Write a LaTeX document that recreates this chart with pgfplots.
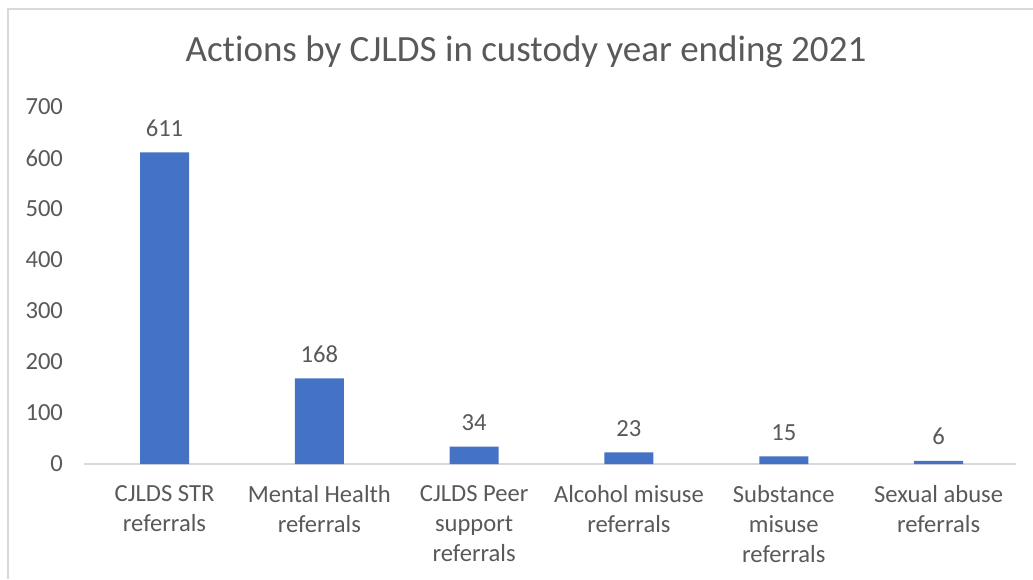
\documentclass[border=0pt]{standalone}
\usepackage{fontspec}
\setmainfont{Carlito}[Ligatures={NoCommon}]
\usepackage{pgfplots}
\pgfplotsset{compat=1.18}
\definecolor{barblue}{HTML}{4472C4}
\definecolor{txt}{HTML}{595959}
\definecolor{axgray}{HTML}{D9D9D9}
\begin{document}
\begin{tikzpicture}
\path[use as bounding box] (0,0) rectangle (516.5pt,289.5pt);
\draw[axgray, line width=0.8pt] (4pt,0) -- (4pt,285pt) -- (516.5pt,285pt);
\node[txt, font=\fontsize{18.5}{22}\selectfont] at (263pt,263.5pt) {Actions by CJLDS in custody year ending 2021};
\begin{axis}[
  at={(42pt,57.5pt)}, anchor=south west,
  scale only axis, width=466pt, height=178.5pt,
  ymin=0, ymax=700, xmin=-0.52, xmax=5.5,
  axis line style={draw=none},
  major tick length=0pt,
  ytick={0,100,...,700},
  xtick={0,1,2,3,4,5},
  xticklabels={{CJLDS STR\\referrals},{Mental Health\\referrals},{CJLDS Peer\\support\\referrals},{Alcohol misuse\\referrals},{Substance\\misuse\\referrals},{Sexual abuse\\referrals}},
  xticklabel style={align=center, text=txt, font=\fontsize{12.3}{15}\selectfont, yshift=-7pt},
  yticklabel style={text=txt, font=\fontsize{12.3}{15}\selectfont, xshift=-7pt},
  /pgf/number format/assume math mode=true,
  ybar, bar width=24.5pt,
  nodes near coords,
  nodes near coords style={text=txt, font=\fontsize{12.3}{15}\selectfont, yshift=4.5pt},
  clip=false,
]
\draw[axgray, line width=0.8pt] (axis cs:-0.52,0) -- (axis cs:5.5,0);
\addplot[fill=barblue, draw=none] coordinates {(0,611) (1,168) (2,34) (3,23) (4,15) (5,6)};
\end{axis}
\end{tikzpicture}
\end{document}
